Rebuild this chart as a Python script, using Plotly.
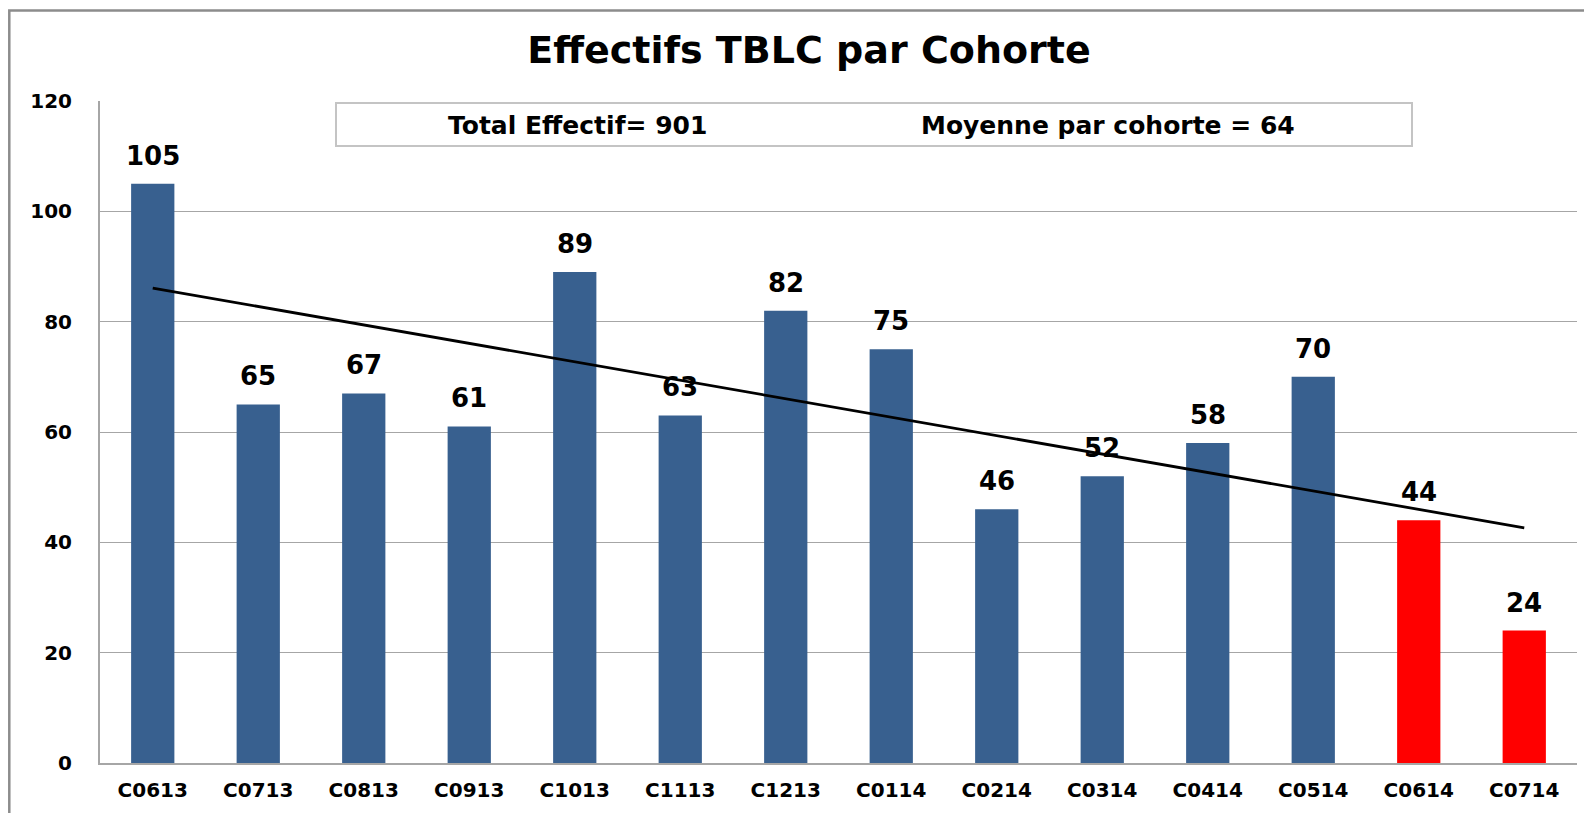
import numpy as np
import plotly.graph_objects as go

categories = ["C0613", "C0713", "C0813", "C0913", "C1013", "C1113", "C1213",
              "C0114", "C0214", "C0314", "C0414", "C0514", "C0614", "C0714"]
values = [105, 65, 67, 61, 89, 63, 82, 75, 46, 52, 58, 70, 44, 24]
highlight = [False] * 12 + [True, True]
y_ticks = [0, 20, 40, 60, 80, 100, 120]

BLUE = "#38608F"
RED = "#FF0000"
colors = [RED if h else BLUE for h in highlight]

# Linear trendline (Excel-style) computed from the data
idx = np.arange(len(values))
slope, intercept = np.polyfit(idx, values, 1)
trend = slope * idx + intercept

# The page body adds an 8px offset; figure is sized to fill the rest of the window
OFF = 8
W, H = 1592 - OFF, 813 - OFF
PL, PR, PT, PB = 100, 1577, 101, 763      # plot area in page pixels
L, R, T, B = PL - OFF, W - (PR - OFF), PT - OFF, H - (PB - OFF)
pw, ph = PR - PL, PB - PT

def px(x):
    return (x - PL) / pw

def py(y):
    return (PB - y) / ph

fig = go.Figure()
fig.add_trace(go.Bar(
    x=categories, y=values, marker=dict(color=colors, line=dict(width=0)),
    showlegend=False,
))
fig.add_trace(go.Scatter(
    x=categories, y=trend, mode="lines",
    line=dict(color="#000000", width=2.8), showlegend=False,
))

shapes = [
    # outer chart border
    dict(type="rect", xref="paper", yref="paper",
         x0=px(9.3), x1=px(1640), y0=py(860), y1=py(10.5),
         line=dict(color="#8C8C8C", width=2.5), fillcolor="rgba(0,0,0,0)", layer="below"),
    # info box
    dict(type="rect", xref="paper", yref="paper",
         x0=px(336), x1=px(1412), y0=py(146), y1=py(103),
         line=dict(color="#C4C4C4", width=2), fillcolor="#FFFFFF", layer="above"),
]

label_font = dict(family="DejaVu Sans", size=26, color="#000000", weight="bold")
annotations = [
    dict(text=str(v), x=c, y=v, xref="x", yref="y", showarrow=False,
         xanchor="center", yanchor="bottom", yshift=11, font=label_font)
    for c, v in zip(categories, values)
]

box_font = dict(family="DejaVu Sans", size=25, color="#000000", weight="bold")
annotations += [
    dict(text="Total Effectif= 901", xref="paper", yref="paper",
         x=px(577), y=py(125), showarrow=False, xanchor="center", yanchor="middle",
         font=box_font),
    dict(text="Moyenne par cohorte = 64", xref="paper", yref="paper",
         x=px(1108), y=py(125), showarrow=False, xanchor="center", yanchor="middle",
         font=box_font),
]

tick_font = dict(family="DejaVu Sans", size=20, color="#000000", weight="bold")
fig.update_layout(
    width=W, height=H,
    margin=dict(l=L, r=R, t=T, b=B),
    paper_bgcolor="#FFFFFF", plot_bgcolor="#FFFFFF",
    title=dict(text="Effectifs TBLC par Cohorte", x=px(809), xref="paper",
               xanchor="center", y=1 - (50 - OFF) / H, yanchor="middle",
               font=dict(family="DejaVu Sans", size=38, color="#000000", weight="bold")),
    bargap=0.59,
    shapes=shapes, annotations=annotations,
    xaxis=dict(showgrid=False, showline=True, linecolor="#A6A6A6", linewidth=2,
               ticks="", tickfont=tick_font, ticklabelstandoff=8),
    yaxis=dict(range=[0, 120], tickvals=y_ticks, showgrid=True, gridcolor="#A6A6A6",
               gridwidth=1, showline=True, linecolor="#A6A6A6", linewidth=2,
               zeroline=False, ticks="", tickfont=tick_font, ticklabelstandoff=22),
)

fig.write_html("out.html")
